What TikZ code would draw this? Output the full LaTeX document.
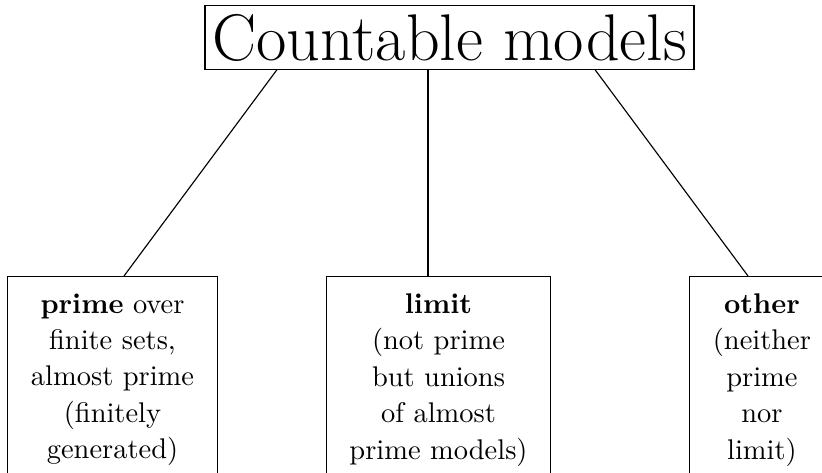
\documentclass[tikz,border=0pt]{standalone}
\usetikzlibrary{calc}
\tikzset{
  topbox/.style={draw, font=\fontsize{23.2}{27}\selectfont, minimum width=171.9pt, minimum height=22.2pt, inner sep=0pt},
  leafbox/.style={draw, align=center, font=\fontsize{10}{12.8}\selectfont, inner xsep=8.2pt, inner ysep=6pt, anchor=north},
  branch/.style={draw, line width=0.4pt}
}
\begin{document}
\begin{tikzpicture}[x=0.35149pt, y=-0.35149pt]
\useasboundingbox (0,0) rectangle (822,473);
\clip (0,0) rectangle (822,473);
\node[topbox] (root) at (449.5,37.5) {Countable models};
\node[leafbox] (prime) at (112.5,276) {\textbf{prime} over\\finite sets,\\almost prime\\(finitely\\generated)};
\node[leafbox] (limit) at (438.5,276) {\textbf{limit}\\(not prime\\but unions\\of almost\\prime models)};
\node[leafbox, anchor=north west] (other) at (689,276) {\textbf{other}\\(neither\\prime\\nor\\limit)};
\path[branch] ($(root.south)+(-172.5,0)$) -- ($(prime.north)+(11.5,0)$);
\path[branch] ($(root.south)+(-21.5,0)$) -- ($(limit.north)+(-10.5,0)$);
\path[branch] ($(root.south)+(145.5,0)$) -- ($(other.north west)+(59,0)$);
\end{tikzpicture}
\end{document}
